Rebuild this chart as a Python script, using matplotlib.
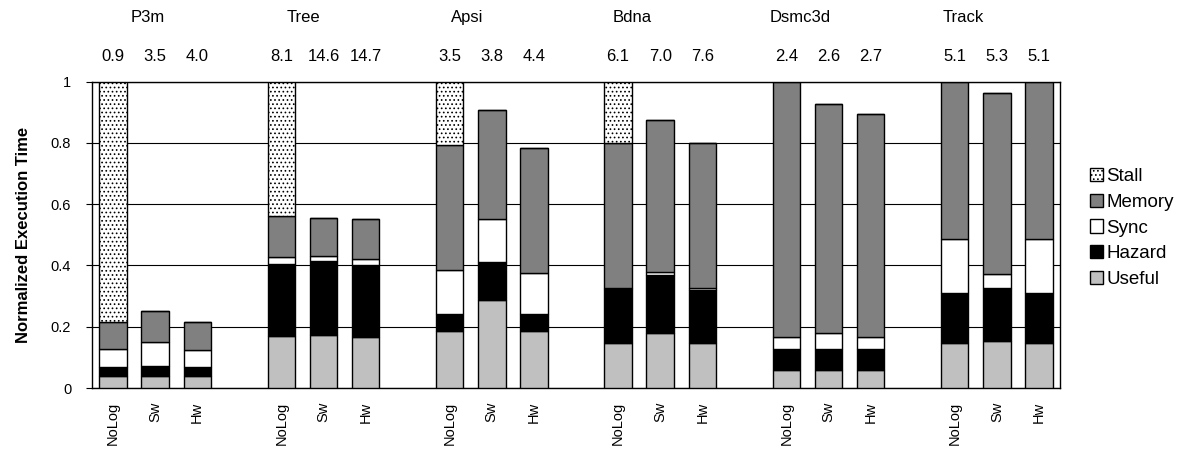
import numpy as np
import matplotlib
matplotlib.use("Agg")
import matplotlib.pyplot as plt
from matplotlib.patches import Patch

# --- Data ---
benchmarks = ["P3m", "Tree", "Apsi", "Bdna", "Dsmc3d", "Track"]
schemes = ["NoLog", "Sw", "Hw"]

# per bar, in order P3m(NoLog,Sw,Hw), Tree(...), ...
useful = [0.040, 0.040, 0.040, 0.171, 0.174, 0.168, 0.187, 0.286, 0.187,
          0.147, 0.179, 0.147, 0.060, 0.060, 0.060, 0.147, 0.152, 0.147]
hazard = [0.028, 0.033, 0.028, 0.233, 0.241, 0.232, 0.055, 0.124, 0.055,
          0.176, 0.191, 0.174, 0.068, 0.067, 0.068, 0.163, 0.176, 0.163]
sync = [0.059, 0.076, 0.057, 0.024, 0.017, 0.021, 0.144, 0.141, 0.133,
        0.003, 0.008, 0.007, 0.038, 0.052, 0.038, 0.176, 0.045, 0.177]
memory = [0.090, 0.104, 0.092, 0.132, 0.123, 0.130, 0.407, 0.357, 0.408,
          0.475, 0.497, 0.473, 0.834, 0.748, 0.727, 0.514, 0.589, 0.513]
stall = [0.783, 0.0, 0.0, 0.440, 0.0, 0.0, 0.207, 0.0, 0.0,
         0.199, 0.0, 0.0, 0.0, 0.0, 0.0, 0.0, 0.0, 0.0]

speedups = ["0.9", "3.5", "4.0", "8.1", "14.6", "14.7", "3.5", "3.8", "4.4",
            "6.1", "7.0", "7.6", "2.4", "2.6", "2.7", "5.1", "5.3", "5.1"]

# --- Layout ---
W, H, DPI = 1193, 449, 100
BAR_W = 0.65
STALL_HATCH = "...."
name_x = [0.83, 4.52, 8.41, 12.33, 16.33, 20.2]  # group title positions (slot units)

plt.rcParams["font.family"] = ["Liberation Sans", "DejaVu Sans"]
plt.rcParams["hatch.linewidth"] = 0.7

fig = plt.figure(figsize=(W / DPI, H / DPI), dpi=DPI)
ax = fig.add_axes([92 / W, 1 - 388 / H, (1060 - 92) / W, (388 - 81.7) / H])

x = np.array([g * 4 + s for g in range(len(benchmarks)) for s in range(len(schemes))])

layers = [
    ("Useful", useful, dict(color="#c0c0c0")),
    ("Hazard", hazard, dict(color="black")),
    ("Sync", sync, dict(color="white")),
    ("Memory", memory, dict(color="#808080")),
    ("Stall", stall, dict(color="white", hatch=STALL_HATCH)),
]

bottom = np.zeros(len(x))
for name, vals, style in layers:
    vals = np.array(vals)
    ax.bar(x, vals, BAR_W, bottom=bottom, edgecolor="black", linewidth=1.0,
           zorder=3, label=name, **style)
    bottom += vals

ax.set_xlim(-0.5, x.max() + 0.5)
ax.set_ylim(0, 1)
ax.set_yticks([0, 0.2, 0.4, 0.6, 0.8, 1.0])
ax.set_yticklabels(["0", "0.2", "0.4", "0.6", "0.8", "1"], fontsize=10.5)
ax.set_xticks(x)
ax.set_xticklabels(schemes * len(benchmarks), rotation=90, fontsize=10.5)
ax.tick_params(axis="x", length=0, pad=10)
ax.tick_params(axis="y", direction="out", length=4, width=0.8, pad=11)
ax.yaxis.grid(True, color="black", linewidth=0.8, zorder=0)
ax.set_axisbelow(True)
for sp in ax.spines.values():
    sp.set_linewidth(1.0)

ax.set_ylabel("Normalized Execution Time", fontsize=12, fontweight="bold")
ax.yaxis.set_label_coords(-0.063, 0.5)

tr = ax.get_xaxis_transform()
for xi, lab in zip(x, speedups):
    ax.text(xi, 1.081, lab, transform=tr, ha="center", va="center", fontsize=12)
for nx, nm in zip(name_x, benchmarks):
    ax.text(nx, 1.211, nm, transform=tr, ha="center", va="center", fontsize=12)

handles = [
    Patch(facecolor="white", edgecolor="black", hatch=STALL_HATCH, label="Stall"),
    Patch(facecolor="#808080", edgecolor="black", label="Memory"),
    Patch(facecolor="white", edgecolor="black", label="Sync"),
    Patch(facecolor="black", edgecolor="black", label="Hazard"),
    Patch(facecolor="#c0c0c0", edgecolor="black", label="Useful"),
]
fig.legend(handles=handles, loc="center left", bbox_to_anchor=(1082 / W, 1 - 228 / H),
           frameon=False, fontsize=13.5, handlelength=0.7, handleheight=0.7,
           handletextpad=0.2, labelspacing=0.45, borderaxespad=0)

fig.savefig("out.png", dpi=DPI)
